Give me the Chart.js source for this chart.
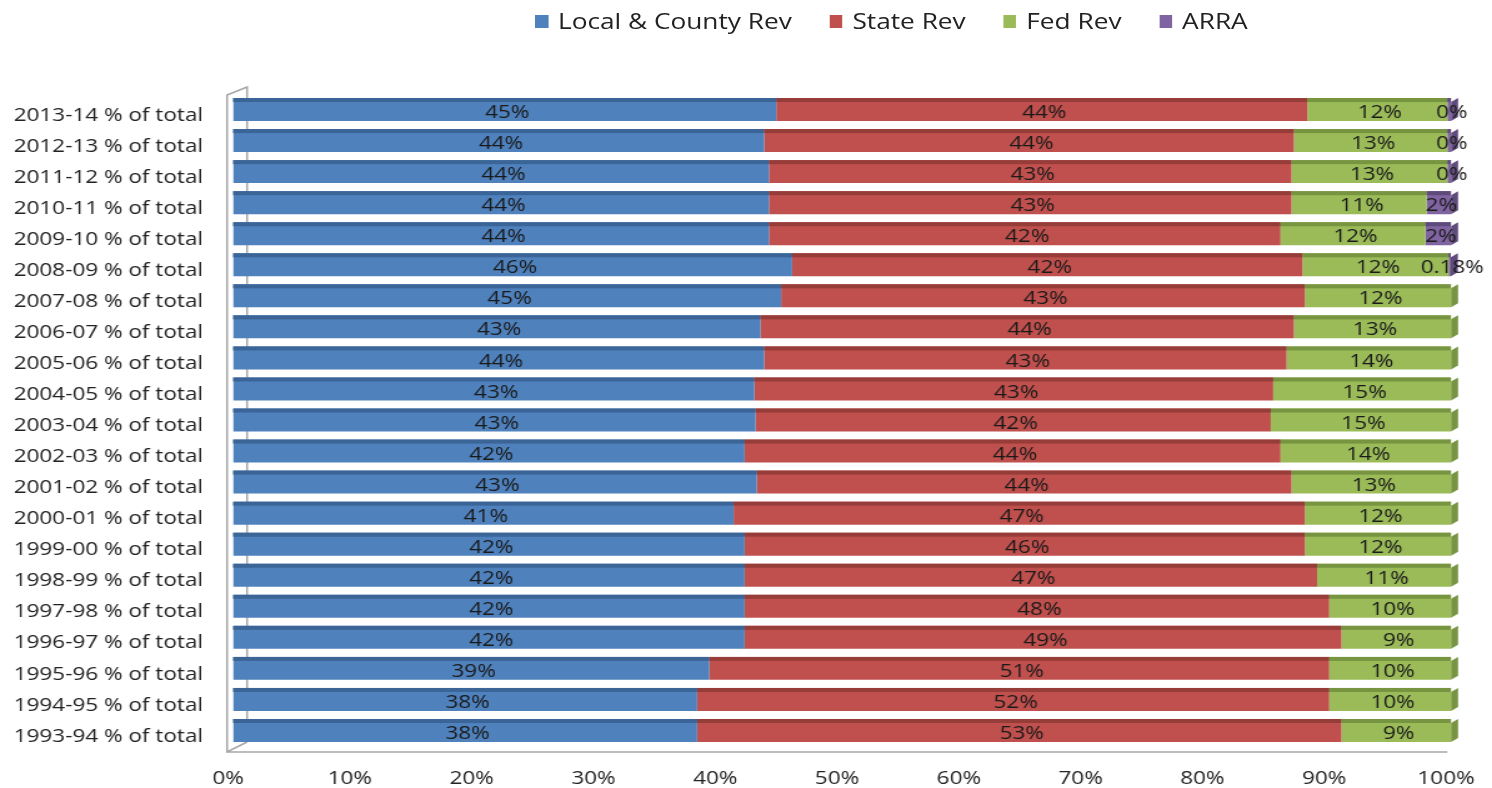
<!DOCTYPE html>
<html>
<head>
<meta charset="utf-8">
<script src="https://cdn.jsdelivr.net/npm/chart.js@4.4.1/dist/chart.umd.min.js"></script>
<style>
  html, body { margin: 0; padding: 0; background: #fff; }
  /* the reference is a horizontally stretched Excel picture, so stretch the whole chart */
  #wrap { position: relative; width: 1194px; height: 788px; transform: scaleX(1.2496); transform-origin: 0 0; }
  #legend { position: absolute; top: 7px; left: 428px; display: flex; align-items: center;
            font-family: "Open Sans"; font-size: 21px; color: #222; white-space: nowrap; }
  #legend .item { display: flex; align-items: center; margin-right: 30px; }
  #legend .box { width: 10.5px; height: 13px; margin-right: 8px; }
</style>
</head>
<body>
<div id="wrap">
  <div id="legend"></div>
  <canvas id="revenue-chart" width="1194" height="788"></canvas>
</div>
<script>
const years = ["2013-14", "2012-13", "2011-12", "2010-11", "2009-10", "2008-09", "2007-08",
  "2006-07", "2005-06", "2004-05", "2003-04", "2002-03", "2001-02", "2000-01", "1999-00",
  "1998-99", "1997-98", "1996-97", "1995-96", "1994-95", "1993-94"];
const categories = years.map(y => y + " % of total");

// share of total revenue, percent
const localCounty = [44.6, 43.6, 44.0, 44.0, 44.0, 45.9, 45.0, 43.3, 43.6, 42.8, 42.9,
  42.0, 43.0, 41.1, 42.0, 42.0, 42.0, 42.0, 39.1, 38.1, 38.1];
const stateRev = [43.6, 43.5, 42.9, 42.9, 42.0, 41.9, 43.0, 43.8, 42.9, 42.6, 42.3,
  44.0, 43.9, 46.9, 46.0, 47.0, 48.0, 49.0, 50.9, 51.9, 52.9];
const fedRev = [11.5, 12.6, 12.8, 11.1, 11.9, 12.0, 12.0, 12.9, 13.5, 14.6, 14.8,
  14.0, 13.1, 12.0, 12.0, 11.0, 10.0, 9.0, 10.0, 10.0, 9.0];
const arra = [0.3, 0.3, 0.3, 2.0, 2.1, 0.18, null, null, null, null, null,
  null, null, null, null, null, null, null, null, null, null];
const arraLabels = ["0%", "0%", "0%", "2%", "2%", "0.18%"];

const xTicks = [0, 10, 20, 30, 40, 50, 60, 70, 80, 90, 100];

const series = [
  { label: "Local & County Rev", data: localCounty, color: "#4F81BD", dark: "#3B6497" },
  { label: "State Rev", data: stateRev, color: "#C0504D", dark: "#963D3A" },
  { label: "Fed Rev", data: fedRev, color: "#9BBB59", dark: "#779441" },
  { label: "ARRA", data: arra, color: "#8064A2", dark: "#5F4A7C" }
];

// legend as plain html so it can sit where the reference has it
const legendEl = document.getElementById('legend');
series.forEach(s => {
  const item = document.createElement('div');
  item.className = 'item';
  item.innerHTML = '<span class="box" style="background:' + s.color + '"></span><span>' + s.label + '</span>';
  legendEl.appendChild(item);
});

const labelFont = '18px "Open Sans"';

// fake 3D: wall/floor lines, darker top and side faces, value labels
const bar3d = {
  id: 'bar3d',
  beforeDatasetsDraw(chart) {
    const ctx = chart.ctx;
    const a = chart.chartArea;
    const ox = a.left - 4.8, ix = a.left + 11.2;
    ctx.save();
    ctx.strokeStyle = '#a6a6a6';
    ctx.lineWidth = 1.5;
    ctx.beginPath();
    ctx.moveTo(ix, a.bottom - 4);
    ctx.lineTo(ix, a.top - 7);
    ctx.lineTo(ox, a.top + 1);
    ctx.lineTo(ox, a.bottom + 6);
    ctx.lineTo(ix, a.bottom - 4);
    ctx.moveTo(ox, a.bottom + 6);
    ctx.lineTo(chart.scales.x.getPixelForValue(100) - 3, a.bottom + 6);
    ctx.stroke();
    ctx.restore();
  },
  afterDatasetsDraw(chart) {
    const ctx = chart.ctx;
    ctx.save();
    const lastEnd = [];
    series.forEach((s, di) => {
      const meta = chart.getDatasetMeta(di);
      meta.data.forEach((bar, i) => {
        if (s.data[i] == null) return;
        const p = bar.getProps(['x', 'y', 'base', 'height'], true);
        const top = p.y - p.height / 2;
        ctx.fillStyle = s.dark;
        ctx.fillRect(p.base, top, p.x - p.base, 4);
        lastEnd[i] = { x: p.x, top: top, bottom: top + p.height, dark: s.dark };
      });
    });
    // right side face of each row
    lastEnd.forEach(e => {
      ctx.fillStyle = e.dark;
      ctx.beginPath();
      ctx.moveTo(e.x, e.top + 4);
      ctx.lineTo(e.x + 5.6, e.top);
      ctx.lineTo(e.x + 5.6, e.bottom - 4);
      ctx.lineTo(e.x, e.bottom);
      ctx.closePath();
      ctx.fill();
    });
    // value labels
    ctx.font = labelFont;
    ctx.fillStyle = '#1a1a1a';
    ctx.textAlign = 'center';
    ctx.textBaseline = 'middle';
    series.forEach((s, di) => {
      const meta = chart.getDatasetMeta(di);
      meta.data.forEach((bar, i) => {
        const v = s.data[i];
        if (v == null) return;
        const p = bar.getProps(['x', 'y', 'base'], true);
        const txt = di === 3 ? arraLabels[i] : Math.round(v) + '%';
        ctx.fillText(txt, (p.x + p.base) / 2 + 2, p.y + 3.5);
      });
    });
    ctx.restore();
  }
};

const ctx = document.getElementById('revenue-chart').getContext('2d');

const chart = new Chart(ctx, {
  type: 'bar',
  data: {
    labels: categories,
    datasets: series.map(s => ({
      label: s.label,
      data: s.data,
      backgroundColor: s.color,
      borderWidth: 0,
      barPercentage: 0.74,
      categoryPercentage: 1
    }))
  },
  options: {
    indexAxis: 'y',
    responsive: false,
    animation: false,
    layout: { padding: { top: 94, right: 32.8, bottom: 0, left: 0 } },
    plugins: {
      legend: { display: false },
      tooltip: { enabled: false }
    },
    scales: {
      x: {
        stacked: true,
        min: 0,
        max: 100,
        afterBuildTicks: scale => { scale.ticks = xTicks.map(v => ({ value: v })); },
        grid: { display: false, drawTicks: false },
        border: { display: false },
        ticks: {
          callback: v => v + '%',
          font: { family: 'Open Sans', size: 18 },
          color: '#222',
          padding: 22,
          labelOffset: -4,
          maxRotation: 0,
          autoSkip: false
        },
        afterFit: scale => {
          scale.height = 42;
          // keep the end labels from pushing the plot area in
          scale.paddingLeft = 0;
          scale.paddingRight = 0;
        }
      },
      y: {
        stacked: true,
        grid: { display: false, drawTicks: false },
        border: { display: false },
        ticks: {
          font: { family: 'Open Sans', size: 18 },
          color: '#222',
          padding: 24,
          labelOffset: 6,
          autoSkip: false
        },
        afterFit: scale => { scale.width = 186.5; }
      }
    }
  },
  plugins: [bar3d]
});
</script>
</body>
</html>
